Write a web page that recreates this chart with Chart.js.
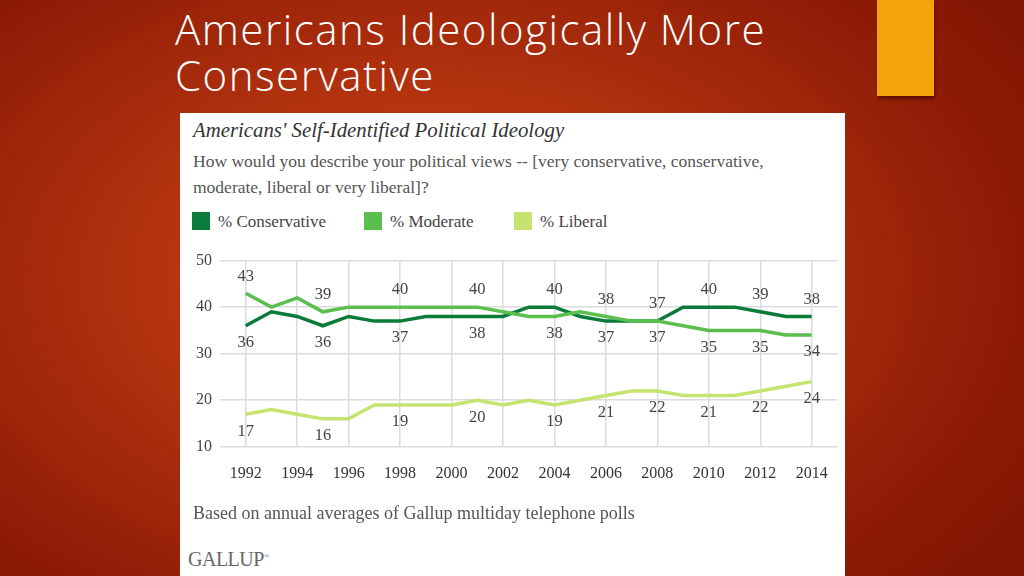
<!DOCTYPE html>
<html>
<head>
<meta charset="utf-8">
<script src="https://cdn.jsdelivr.net/npm/chart.js@4"></script>
<style>
  html, body { margin: 0; padding: 0; }
  body {
    width: 1024px; height: 576px; overflow: hidden; position: relative;
    background: radial-gradient(ellipse 70% 80% at 42% 48%, #cc461b 0%, #b3330f 40%, #8e1c06 80%, #821603 100%);
    font-family: "Liberation Serif", serif;
  }
  .slide-title {
    position: absolute; left: 175px; top: 6px;
    font-family: "Open Sans", sans-serif; font-weight: 300;
    font-size: 42px; line-height: 46px; color: #fff; letter-spacing: 1.5px;
  }
  .tab {
    position: absolute; left: 877px; top: 0; width: 57px; height: 96px;
    background: #f4a30d; box-shadow: 1px 3px 3px rgba(60,0,0,0.55);
  }
  .panel {
    position: absolute; left: 180px; top: 113px; width: 665px; height: 463px;
    background: #fff;
  }
  .panel .ttl {
    position: absolute; left: 13px; top: 5px;
    font-style: italic; font-size: 20.8px; color: #333; white-space: nowrap;
  }
  .panel .sub {
    position: absolute; left: 13px; top: 35px; white-space: nowrap;
    font-size: 17.5px; line-height: 26px; color: #555;
  }
  .legend { position: absolute; left: 12px; top: 99px; font-size: 17px; color: #444; }
  .legend span.item { position: absolute; white-space: nowrap; }
  .legend i { display: inline-block; width: 18px; height: 18px; vertical-align: -3px; margin-right: 8px; }
  .foot { position: absolute; left: 13px; top: 390px; font-size: 18px; color: #555; white-space: nowrap; }
  .logo { position: absolute; left: 8px; top: 435px; font-size: 20px; color: #666; letter-spacing: -0.5px; }
  #wrap { position: absolute; left: 0; top: 130px; width: 665px; height: 265px; }
</style>
</head>
<body>
<div class="slide-title">Americans Ideologically More<br>Conservative</div>
<div class="tab"></div>
<div class="panel">
  <div class="ttl">Americans' Self-Identified Political Ideology</div>
  <div class="sub">How would you describe your political views -- [very conservative, conservative,<br>moderate, liberal or very liberal]?</div>
  <div class="legend" id="legend"></div>
  <div id="wrap"><canvas id="chart"></canvas></div>
  <div class="foot">Based on annual averages of Gallup multiday telephone polls</div>
  <div class="logo">GALLUP<sup style="font-size:7px">&#174;</sup></div>
</div>
<script>
// yearly values
const years = [1992,1993,1994,1995,1996,1997,1998,1999,2000,2001,2002,2003,2004,2005,2006,2007,2008,2009,2010,2011,2012,2013,2014];
const tickYears = [1992,1994,1996,1998,2000,2002,2004,2006,2008,2010,2012,2014];
const conservative = [36,39,38,36,38,37,37,38,38,38,38,40,40,38,37,37,37,40,40,40,39,38,38];
const moderate     = [43,40,42,39,40,40,40,40,40,40,39,38,38,39,38,37,37,36,35,35,35,34,34];
const liberal      = [17,18,17,16,16,19,19,19,19,20,19,20,19,20,21,22,22,21,21,21,22,23,24];

// which points carry a value label, and on which side of the line
const labelIdx = [0,3,6,9,12,14,16,18,20,22];
const consLabelSide = ['below','below','below','below','above','below','above','above','above','above'];
const modLabelSide  = ['above','above','above','above','below','above','below','below','below','below'];
const libLabelSide  = ['below','below','below','below','below','below','below','below','below','below'];

const names = ['% Conservative', '% Moderate', '% Liberal'];
const colors = ['#0b7b3a', '#5bbf4e', '#c5e36f'];
const series = [conservative, moderate, liberal];
const sides = [consLabelSide, modLabelSide, libLabelSide];

// html legend
const legendX = [0, 172, 322];
document.getElementById('legend').innerHTML = names.map((n, i) =>
  `<span class="item" style="left:${legendX[i]}px"><i style="background:${colors[i]}"></i>${n}</span>`).join('');

const pointLabels = {
  id: 'pointLabels',
  afterDatasetsDraw(chart) {
    const ctx = chart.ctx;
    const xs = chart.scales.x, ys = chart.scales.y;
    ctx.save();
    ctx.font = '16.5px "Liberation Serif", serif';
    ctx.fillStyle = '#444';
    ctx.textAlign = 'center';
    ctx.textBaseline = 'middle';
    series.forEach((vals, s) => {
      labelIdx.forEach((idx, k) => {
        const x = xs.getPixelForValue(years[idx]);
        const y = ys.getPixelForValue(vals[idx]) + (sides[s][k] === 'above' ? -17 : 17);
        ctx.fillText(String(vals[idx]), x, y);
      });
    });
    ctx.restore();
  }
};

new Chart(document.getElementById('chart'), {
  type: 'line',
  data: {
    datasets: series.map((vals, i) => ({
      label: names[i],
      data: vals.map((v, j) => ({ x: years[j], y: v })),
      borderColor: colors[i],
      backgroundColor: colors[i],
      borderWidth: 3.5,
      pointRadius: 0,
      tension: 0
    })).reverse()
  },
  options: {
    responsive: true,
    maintainAspectRatio: false,
    animation: false,
    layout: { padding: { left: 8, right: 7, top: 10, bottom: 8 } },
    plugins: { legend: { display: false }, tooltip: { enabled: false } },
    scales: {
      x: {
        type: 'linear', min: 1991, max: 2015,
        afterBuildTicks: scale => { scale.ticks = tickYears.map(v => ({ value: v })); },
        grid: { color: '#dcdcdc', lineWidth: 1.5, drawTicks: false },
        border: { display: false },
        ticks: {
          padding: 17, color: '#333', maxRotation: 0, autoSkip: false,
          font: { family: 'Liberation Serif', size: 16 },
          callback: v => String(v)
        }
      },
      y: {
        min: 10, max: 50,
        grid: { color: '#dcdcdc', lineWidth: 1.5, drawTicks: false },
        border: { display: false },
        ticks: {
          stepSize: 10, padding: 8, color: '#444',
          font: { family: 'Liberation Serif', size: 16 }
        }
      }
    }
  },
  plugins: [pointLabels]
});
</script>
</body>
</html>
